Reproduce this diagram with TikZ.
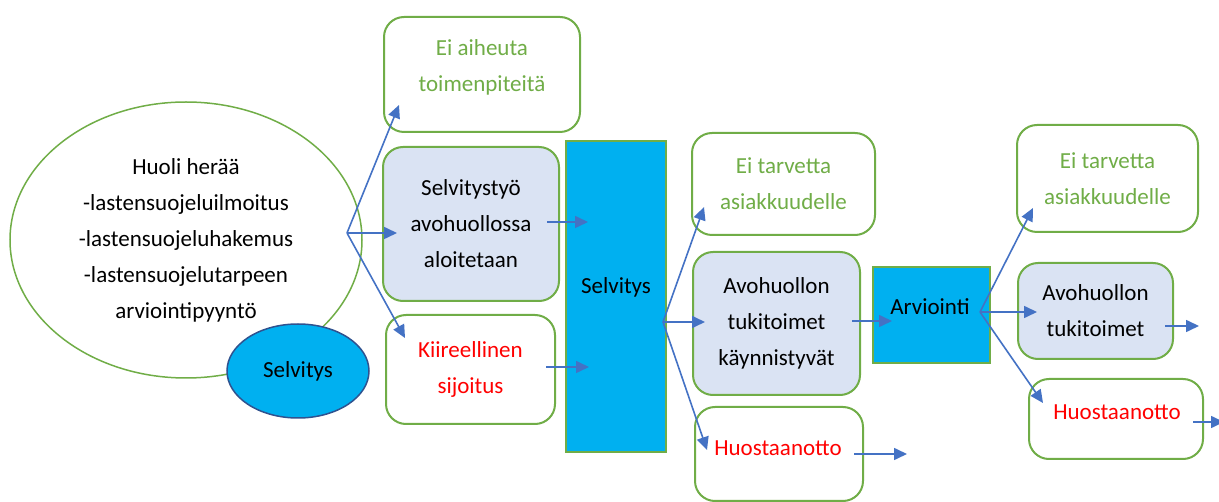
\documentclass[tikz,border=0pt]{standalone}
\usepackage{fontspec}
\setmainfont{Carlito}
\usetikzlibrary{arrows.meta,shapes.geometric}
\definecolor{gr}{HTML}{70AD47}
\definecolor{bl}{HTML}{4472C4}
\definecolor{lb}{HTML}{DAE3F3}
\definecolor{cy}{HTML}{00B0F0}
\definecolor{dk}{HTML}{2F528F}
\definecolor{rd}{HTML}{FF0000}
\begin{document}
\begin{tikzpicture}[x=1pt,y=-1pt,
 txt/.style={font=\fontsize{23}{36}\selectfont, align=center},
 box/.style={txt, draw=gr, line width=2pt, rounded corners=20pt, inner sep=0pt, fill=white},
 fillbox/.style={box, fill=lb},
 cyanrect/.style={draw=gr, line width=2pt, fill=cy, inner sep=0pt},
 arr/.style={draw=bl, line width=1.6pt, -{Triangle[length=13pt,width=12pt]}}
]
\useasboundingbox (0,0) rectangle (1219,502);

% big ellipse
\node[txt, draw=gr, line width=1.5pt, ellipse, inner sep=0pt, minimum width=352, minimum height=276] (huoli) at (186,240)
 {Huoli herää\\-lastensuojeluilmoitus\\-lastensuojeluhakemus\\-lastensuojelutarpeen\\arviointipyyntö};
\node[txt, draw=dk, line width=1.5pt, fill=cy, ellipse, inner sep=0pt, minimum width=142, minimum height=94] (selvell) at (298,371) {Selvitys};

% column 1 boxes
\node[box, text=gr, minimum width=196, minimum height=115] (eiaih) at (482,74.5) {};
\node[txt, text=gr] (eiaihtxt) at (482,67) {Ei aiheuta\\toimenpiteitä};
\node[fillbox, minimum width=176, minimum height=154] (selvtyo) at (471,224) {Selvitystyö\\avohuollossa\\aloitetaan};
\node[box, text=rd, minimum width=169, minimum height=109] (kiir) at (470.5,369.5) {Kiireellinen\\sijoitus};

% Selvitys rect
\node[cyanrect, minimum width=100, minimum height=311] (selvrect) at (616,296.5) {};
\node[txt] (selvrecttxt) at (616,287) {Selvitys};

% column 2 boxes
\node[box, text=gr, minimum width=183, minimum height=102] (eitarv1) at (783.5,184) {Ei tarvetta\\asiakkuudelle};
\node[fillbox, minimum width=167, minimum height=143] (avo1) at (776.5,323.5) {Avohuollon\\tukitoimet\\käynnistyvät};
\node[box, minimum width=168, minimum height=94] (huos1) at (779,454) {};
\node[txt, text=rd] (huos1txt) at (778,448) {Huostaanotto};

% Arviointi rect
\node[cyanrect, minimum width=117, minimum height=96] (arvrect) at (931.5,315) {};
\node[txt] (arvtxt) at (930,307) {Arviointi};

% column 3 boxes
\node[box, text=gr, minimum width=181, minimum height=107] (eitarv2) at (1107.5,178.5) {Ei tarvetta\\asiakkuudelle};
\node[fillbox, minimum width=155, minimum height=96] (avo2) at (1095.5,311) {Avohuollon\\tukitoimet};
\node[box, minimum width=174, minimum height=80] (huos2) at (1116,419) {};
\node[txt, text=rd] (huos2txt) at (1117,412) {Huostaanotto};

% fork 1
\coordinate (f1) at (347,233);
\coordinate (f1a) at (399,105);
\coordinate (f1b) at (397,233);
\coordinate (f1c) at (405,338);
\draw[arr] (f1) -- (f1a);
\draw[arr] (f1) -- (f1b);
\draw[arr] (f1) -- (f1c);

% short arrows into Selvitys
\coordinate (s1) at (547,222);
\coordinate (s1e) at (588,222);
\coordinate (s2) at (546,367);
\coordinate (s2e) at (589,367);
\draw[arr] (s1) -- (s1e);
\draw[arr] (s2) -- (s2e);

% fork 2
\coordinate (f2) at (663,322);
\coordinate (f2a) at (704,207);
\coordinate (f2b) at (705,322);
\coordinate (f2c) at (707,450);
\draw[arr] (f2) -- (f2a);
\draw[arr] (f2) -- (f2b);
\draw[arr] (f2) -- (f2c);

% arrows out of column 2
\coordinate (a1) at (852,321);
\coordinate (a1e) at (892,321);
\coordinate (h1) at (854,454);
\coordinate (h1e) at (907,454);
\draw[arr] (a1) -- (a1e);
\draw[arr] (h1) -- (h1e);

% fork 3
\coordinate (f3) at (980,312);
\coordinate (f3a) at (1033,208);
\coordinate (f3b) at (1037,312);
\coordinate (f3c) at (1043,403);
\draw[arr] (f3) -- (f3a);
\draw[arr] (f3) -- (f3b);
\draw[arr] (f3) -- (f3c);

% arrows out of column 3
\coordinate (a2) at (1165,326);
\coordinate (a2e) at (1199,326);
\coordinate (h2) at (1193,422);
\coordinate (h2e) at (1224,422);
\draw[arr] (a2) -- (a2e);
\draw[arr] (h2) -- (h2e);
\end{tikzpicture}
\end{document}
